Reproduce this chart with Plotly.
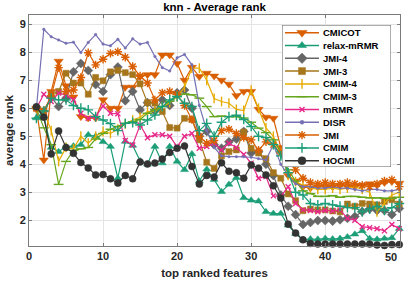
import plotly.graph_objects as go

# ---------------- data ----------------
features = list(range(1, 51))

cmicot = [6.0, 4.15, 6.6, 7.68, 6.8, 6.4, 5.7, 5.65, 5.65, 6.3, 6.0, 6.0, 6.75, 6.75, 7.13, 7.2, 7.2, 7.9, 7.9, 7.6,
          7.0, 7.46, 7.13, 7.25, 7.15, 7.0, 6.86, 6.45, 6.6, 6.6, 5.96, 5.68, 5.64, 4.6, 3.6, 3.4, 3.2, 3.15, 3.2, 3.2,
          3.2, 3.25, 3.2, 3.2, 3.25, 3.3, 3.25, 3.35, 3.38, 3.32]
relax_mrmr = [5.65, 5.7, 4.6, 4.45, 4.63, 4.65, 4.7, 5.05, 5.0, 4.8, 4.63, 3.5, 4.81, 4.67, 4.12, 4.0, 4.63, 4.04, 4.63, 4.1,
              3.8, 4.37, 3.4, 3.82, 3.45, 3.02, 3.28, 3.52, 2.8, 2.71, 2.68, 2.3, 2.24, 2.24, 1.82, 1.52, 1.3, 1.33, 1.32, 1.35,
              1.33, 1.35, 1.4, 1.5, 1.62, 1.35, 1.32, 1.35, 1.37, 1.7]
jmi4 = [6.0, 5.9, 6.4, 6.06, 6.36, 7.3, 7.6, 7.35, 6.85, 6.6, 7.2, 7.47, 6.27, 6.6, 5.94, 6.2, 5.9, 6.3, 6.1, 6.55,
        6.65, 6.0, 5.0, 5.17, 4.7, 4.57, 4.8, 4.9, 5.17, 4.4, 4.45, 4.0, 3.6, 2.9, 2.5, 2.2, 1.85, 1.92, 1.99, 1.99,
        1.97, 2.02, 2.07, 2.13, 2.31, 2.4, 2.35, 2.35, 2.2, 2.42]
jmi3 = [6.0, 5.7, 6.5, 6.6, 7.25, 6.9, 6.9, 6.5, 7.1, 6.98, 7.3, 7.35, 7.27, 7.2, 6.87, 6.2, 6.18, 5.88, 5.31, 5.29,
        5.64, 5.6, 4.87, 4.07, 3.85, 4.3, 4.45, 4.51, 5.15, 4.57, 4.4, 4.2, 3.7, 3.5, 2.94, 2.7, 2.34, 2.4, 2.37, 2.37,
        2.33, 2.3, 2.58, 2.5, 2.6, 2.58, 2.55, 2.67, 2.73, 2.58]
cmim4 = [6.0, 5.9, 5.2, 4.1, 4.6, 4.55, 5.0, 4.75, 5.0, 5.17, 5.1, 5.25, 5.44, 5.58, 5.68, 5.88, 5.9, 6.06, 6.2, 6.42,
         6.75, 7.43, 7.43, 7.0, 6.35, 6.24, 6.18, 5.96, 5.92, 6.65, 6.0, 5.3, 5.0, 4.4, 3.6, 3.38, 3.25, 3.15, 3.1, 3.1,
         3.15, 3.1, 3.15, 3.2, 3.1, 3.0, 2.3, 2.6, 2.9, 3.0]
cmim3 = [6.0, 5.3, 4.7, 3.28, 4.1, 4.5, 4.55, 4.6, 4.9, 5.1, 5.25, 5.35, 5.46, 5.52, 5.6, 5.82, 5.95, 6.06, 6.25, 6.42,
         6.51, 6.48, 6.36, 6.06, 5.7, 5.72, 5.7, 5.7, 5.65, 5.5, 5.29, 5.13, 4.87, 4.45, 3.8, 3.4, 3.05, 2.95, 2.85, 2.85,
         2.88, 2.82, 2.85, 2.85, 2.82, 2.8, 2.8, 2.78, 2.78, 2.82]
mrmr = [6.0, 6.5, 6.24, 6.54, 6.48, 6.3, 5.82, 5.64, 5.7, 6.08, 5.82, 5.8, 4.85, 4.69, 5.4, 4.95, 5.05, 5.05, 5.0, 4.63,
        5.0, 5.1, 4.57, 4.63, 4.75, 4.51, 4.75, 4.6, 4.35, 4.04, 3.5, 3.56, 2.87, 2.85, 3.2, 2.6, 2.37, 2.35, 2.3, 2.35,
        2.33, 2.37, 2.07, 2.0, 1.77, 1.73, 1.7, 1.62, 1.85, 1.7]
disr = [6.0, 8.82, 8.55, 8.44, 8.32, 8.36, 7.99, 8.35, 8.63, 8.29, 8.23, 8.46, 8.15, 8.48, 8.29, 8.35, 7.85, 7.45, 7.33, 7.8,
        7.92, 7.55, 6.1, 5.2, 4.6, 4.3, 4.27, 4.27, 4.27, 4.25, 4.2, 4.15, 4.7, 4.0, 3.6, 3.3, 3.2, 3.2, 3.15, 3.15,
        3.2, 3.15, 3.15, 3.1, 3.05, 3.1, 3.1, 3.05, 3.05, 3.1]
jmi = [6.0, 5.9, 6.45, 7.45, 6.6, 6.65, 7.1, 7.98, 7.55, 7.75, 7.96, 8.02, 7.82, 7.49, 7.15, 6.9, 6.3, 6.55, 6.6, 6.5,
       6.1, 5.6, 5.0, 4.75, 4.85, 5.2, 5.25, 5.1, 4.95, 4.87, 4.5, 4.8, 4.7, 4.4, 4.2, 3.8, 3.5, 3.35, 3.3, 3.35,
       3.3, 3.3, 3.35, 3.3, 3.25, 3.2, 3.3, 3.4, 3.45, 3.2]
cmim = [5.64, 5.9, 6.36, 6.3, 6.3, 6.1, 6.0, 5.94, 5.7, 5.58, 5.45, 5.2, 5.46, 5.49, 5.4, 5.58, 5.76, 6.06, 6.3, 6.42,
        6.18, 6.06, 5.2, 5.46, 5.0, 5.5, 5.7, 5.75, 5.6, 5.35, 5.0, 4.95, 4.7, 4.3, 3.7, 3.0, 2.9, 2.6, 2.55, 2.6,
        2.55, 2.5, 2.45, 2.45, 2.3, 2.4, 2.5, 2.35, 2.45, 2.6]
hocmi = [6.05, 5.68, 4.37, 5.19, 4.6, 4.39, 4.06, 3.87, 3.62, 3.63, 3.48, 3.33, 3.6, 3.48, 4.08, 4.01, 4.04, 4.19, 4.42, 4.57,
         4.65, 3.92, 3.29, 3.6, 3.54, 4.05, 3.75, 3.7, 3.5, 3.97, 3.86, 3.62, 3.23, 2.79, 1.86, 1.54, 1.3, 1.17, 1.15, 1.15,
         1.15, 1.15, 1.15, 1.15, 1.15, 1.15, 1.12, 1.1, 1.13, 1.13]

series_names = ["CMICOT", "relax-mRMR", "JMI-4", "JMI-3", "CMIM-4", "CMIM-3", "mRMR", "DISR", "JMI", "CMIM", "HOCMI"]
series_values = [cmicot, relax_mrmr, jmi4, jmi3, cmim4, cmim3, mrmr, disr, jmi, cmim, hocmi]

x_ticks = [0, 10, 20, 30, 40, 50]
y_ticks = [2, 3, 4, 5, 6, 7, 8, 9]

# ---------------- styles ----------------
styles = {
    "CMICOT":     dict(color="#D95F02", symbol="triangle-down", size=8, filled=True),
    "relax-mRMR": dict(color="#1B9E77", symbol="triangle-up", size=7, filled=True),
    "JMI-4":      dict(color="#666666", symbol="diamond", size=7, filled=True),
    "JMI-3":      dict(color="#A6761D", symbol="square", size=6, filled=True),
    "CMIM-4":     dict(color="#E6AB02", symbol="line-ns", size=7, filled=False),
    "CMIM-3":     dict(color="#66A61E", symbol="line-ew", size=7, filled=False),
    "mRMR":       dict(color="#E7298A", symbol="x-thin", size=5, filled=False),
    "DISR":       dict(color="#7570B3", symbol="circle", size=2.5, filled=True),
    "JMI":        dict(color="#D95F02", symbol="asterisk", size=7, filled=False),
    "CMIM":       dict(color="#1B9E77", symbol="cross-thin", size=7, filled=False),
    "HOCMI":      dict(color="#333333", symbol="circle", size=7, filled=True),
}

FONT = "Liberation Sans, Arial, sans-serif"
TICK_FONT = dict(family=FONT, size=11, color="#262626", weight="bold")


def marker_for(st, size=None):
    s = st["size"] if size is None else size
    if st["filled"]:
        return dict(symbol=st["symbol"], size=s, color=st["color"],
                    line=dict(color=st["color"], width=0.5))
    return dict(symbol=st["symbol"], size=s, color=st["color"],
                line=dict(color=st["color"], width=1.4))


fig = go.Figure()

for name, vals in zip(series_names, series_values):
    st = styles[name]
    fig.add_trace(go.Scatter(
        x=features, y=vals, mode="lines+markers", name=name,
        line=dict(color=st["color"], width=1.2),
        marker=marker_for(st), cliponaxis=False, showlegend=False,
    ))

# ---------------- custom legend (auxiliary axes in pixel units) ----------------
L_LEFT, L_RIGHT, L_TOP, L_BOTTOM = 282, 391, 25, 167
P_LEFT, P_RIGHT, P_TOP, P_BOTTOM = 29, 400, 15, 246
pw, ph = P_RIGHT - P_LEFT, P_BOTTOM - P_TOP
leg_w, leg_h = L_RIGHT - L_LEFT, L_BOTTOM - L_TOP
row0, row_gap = 7.7, 12.8
line_x0, line_x1, mark_x, text_x = 3, 37, 20, 39

# legend background box (drawn on the legend subplot, above the data subplot)
fig.add_trace(go.Scatter(
    x=[0, leg_w, leg_w, 0, 0], y=[0, 0, leg_h, leg_h, 0], mode="lines",
    fill="toself", fillcolor="white", line=dict(color="#5a5a5a", width=1),
    xaxis="x2", yaxis="y2", showlegend=False, hoverinfo="skip", cliponaxis=False,
))

for k, name in enumerate(series_names):
    st = styles[name]
    yk = row0 + row_gap * k
    fig.add_trace(go.Scatter(
        x=[line_x0, line_x1], y=[yk, yk], mode="lines",
        line=dict(color=st["color"], width=1.5),
        xaxis="x2", yaxis="y2", showlegend=False, hoverinfo="skip", cliponaxis=False,
    ))
    fig.add_trace(go.Scatter(
        x=[mark_x], y=[yk], mode="markers",
        marker=marker_for(st, size=max(st["size"], 3) + (1 if st["filled"] else 0)),
        xaxis="x2", yaxis="y2", showlegend=False, hoverinfo="skip", cliponaxis=False,
    ))
    fig.add_annotation(x=text_x, y=yk, xref="x2", yref="y2", text=name, showarrow=False,
                       xanchor="left", yanchor="middle",
                       font=dict(family=FONT, size=9.5, color="#000000", weight="bold"))

axis_common = dict(
    showline=True, linecolor="#7a7a7a", linewidth=1, mirror="ticks",
    ticks="inside", ticklen=3, tickcolor="#7a7a7a",
    showgrid=True, gridcolor="#e4e4e4", gridwidth=1, zeroline=False,
    tickfont=TICK_FONT,
)

# last x tick label is right-aligned at its tick (as in the reference) so it stays inside
x_ticktext = [str(t) for t in x_ticks[:-1]] + [""]
fig.add_annotation(x=x_ticks[-1], y=0, xref="x", yref="paper", text=str(x_ticks[-1]),
                   showarrow=False, xanchor="right", yanchor="middle", yshift=-11,
                   font=TICK_FONT)

fig.update_layout(
    width=407, height=281,
    margin=dict(l=P_LEFT, r=407 - P_RIGHT, t=P_TOP, b=281 - P_BOTTOM),
    paper_bgcolor="white", plot_bgcolor="white",
    title=dict(text="knn - Average rank", x=0.5, xref="paper", xanchor="center",
               y=1 - 6.5 / 281, yref="container", yanchor="middle",
               font=dict(family=FONT, size=11.5, color="#000000", weight="bold")),
    xaxis=dict(range=[0, 50.1], tickvals=x_ticks, ticktext=x_ticktext, automargin=False,
               title=dict(text="top ranked features", standoff=7,
                          font=dict(family=FONT, size=11.5, color="#262626", weight="bold")),
               **axis_common),
    yaxis=dict(range=[1.08, 9.33], tickvals=y_ticks, automargin=False,
               title=dict(text="average rank", standoff=3,
                          font=dict(family=FONT, size=11.5, color="#262626", weight="bold")),
               **axis_common),
    xaxis2=dict(domain=[(L_LEFT - P_LEFT) / pw, (L_RIGHT - P_LEFT) / pw], range=[0, leg_w],
                visible=False, anchor="y2", fixedrange=True),
    yaxis2=dict(domain=[(P_BOTTOM - L_BOTTOM) / ph, (P_BOTTOM - L_TOP) / ph], range=[leg_h, 0],
                visible=False, anchor="x2", fixedrange=True),
    showlegend=False,
)

fig.write_html("out.html", config={"displayModeBar": False},
               post_script="document.body.style.margin='0';")
